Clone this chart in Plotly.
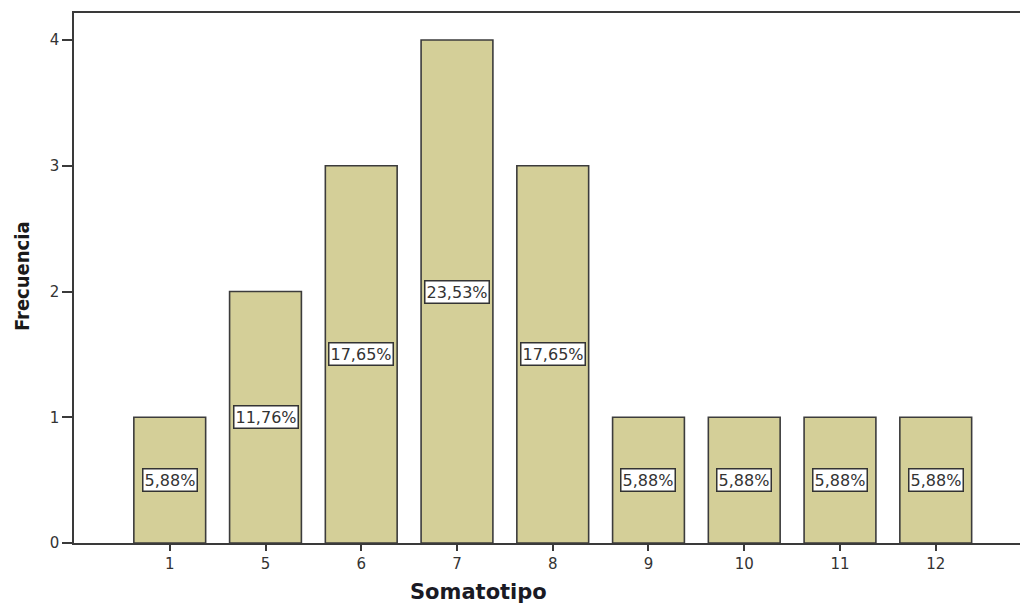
import plotly.graph_objects as go

categories = ["1", "5", "6", "7", "8", "9", "10", "11", "12"]
frecuencia = [1, 2, 3, 4, 3, 1, 1, 1, 1]
porcentajes = ["5,88%", "11,76%", "17,65%", "23,53%", "17,65%", "5,88%", "5,88%", "5,88%", "5,88%"]
y_ticks = [0, 1, 2, 3, 4]

fig = go.Figure()
fig.add_trace(go.Bar(
    x=list(range(len(categories))),
    y=frecuencia,
    width=0.75,
    marker=dict(color="#d4cf98", line=dict(color="#3c3c3c", width=1.6)),
    hoverinfo="skip",
))

for i, (v, p) in enumerate(zip(frecuencia, porcentajes)):
    fig.add_annotation(
        x=i, y=v / 2, text=p, showarrow=False,
        font=dict(family="DejaVu Sans", size=16, color="#333333"),
        bgcolor="white", bordercolor="#333333", borderwidth=1.5, borderpad=1,
    )

fig.add_annotation(
    xref="paper", yref="paper", x=(478 - 74) / (1020 - 74), y=-(592 - 543) / (543 - 13),
    text="<b>Somatotipo</b>", showarrow=False, yanchor="middle",
    font=dict(family="DejaVu Sans", size=21, color="#1a1a24"),
)
fig.add_annotation(
    xref="paper", yref="paper", x=-(74 - 22) / (1020 - 74), y=(543 - 276) / (543 - 13),
    text="<b>Frecuencia</b>", showarrow=False, textangle=-90, xanchor="center", yanchor="middle",
    font=dict(family="Liberation Sans Narrow, DejaVu Sans Condensed, Liberation Sans", size=20, color="#1a1a1a"),
)

fig.update_layout(
    width=1020, height=605,
    margin=dict(l=74, r=0, t=13, b=62),
    plot_bgcolor="white", paper_bgcolor="white",
    showlegend=False,
    xaxis=dict(
        range=[-1, 8.88],
        tickmode="array", tickvals=list(range(len(categories))), ticktext=categories,
        showline=True, linecolor="#3a3a3a", linewidth=1.6, mirror=True,
        ticks="outside", ticklen=6, tickwidth=1.6, tickcolor="#3a3a3a",
        tickfont=dict(family="DejaVu Sans", size=15, color="#333333"),
        showgrid=False, zeroline=False,
    ),
    yaxis=dict(
        range=[0, 4.215],
        tickmode="array", tickvals=y_ticks,
        showline=True, linecolor="#3a3a3a", linewidth=1.6,
        ticks="outside", ticklen=10, tickwidth=1.6, tickcolor="#3a3a3a",
        tickfont=dict(family="DejaVu Sans", size=15, color="#333333"),
        showgrid=False, zeroline=False,
    ),
)

fig.write_html("out.html", config={"displayModeBar": False},
               post_script="document.body.style.margin='0';")
